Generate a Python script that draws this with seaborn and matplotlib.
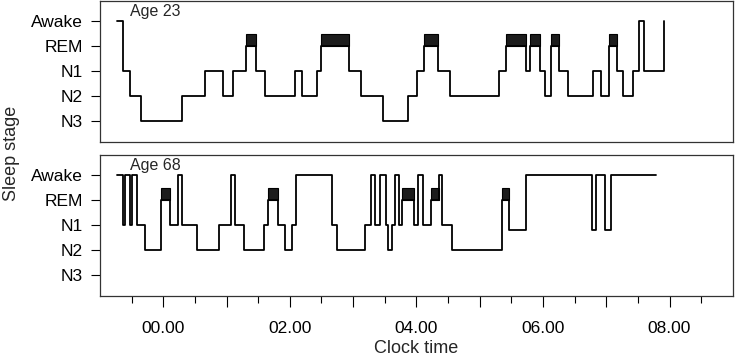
import matplotlib
matplotlib.use('Agg')
import matplotlib.pyplot as plt
import seaborn as sns

# sleep stages, top to bottom
stage_names = ['Awake', 'REM', 'N1', 'N2', 'N3']
stage_level = {'Awake': 4, 'REM': 3, 'N1': 2, 'N2': 1, 'N3': 0, 'N1low': 1.8}

# Age 23: time each stage starts (hours from midnight), last entry = end of record
young_t = [-0.73, -0.63, -0.52, -0.35, 0.29, 0.66, 0.95, 1.11, 1.31, 1.47,
           1.61, 2.08, 2.20, 2.43, 2.50, 2.94, 3.13, 3.48, 3.87, 4.01,
           4.12, 4.34, 4.53, 5.31, 5.42, 5.73, 5.79, 5.96, 6.03, 6.13,
           6.25, 6.40, 6.79, 6.91, 7.05, 7.17, 7.26, 7.42, 7.52, 7.59,
           7.91]
young_s = ['Awake', 'N1', 'N2', 'N3', 'N2', 'N1', 'N2', 'N1', 'REM', 'N1',
           'N2', 'N1', 'N2', 'N1', 'REM', 'N1', 'N2', 'N3', 'N2', 'N1',
           'REM', 'N1', 'N2', 'N1', 'REM', 'N1', 'REM', 'N1', 'N2', 'REM',
           'N1', 'N2', 'N1', 'N2', 'REM', 'N1', 'N2', 'N1', 'Awake', 'N1',
           'Awake']

# Age 68
old_t = [-0.73, -0.64, -0.61, -0.53, -0.49, -0.41, -0.29, -0.03, 0.11, 0.24,
         0.29, 0.54, 0.88, 1.07, 1.13, 1.28, 1.60, 1.65, 1.81, 1.93,
         2.04, 2.10, 2.66, 2.75, 3.19, 3.29, 3.34, 3.43, 3.52, 3.55,
         3.62, 3.66, 3.73, 3.77, 3.96, 4.03, 4.11, 4.23, 4.35, 4.40,
         4.56, 5.36, 5.46, 5.73, 6.78, 6.84, 6.98, 7.07, 7.79]
old_s = ['Awake', 'N1', 'Awake', 'N1', 'Awake', 'N1', 'N2', 'REM', 'N1', 'Awake',
         'N1', 'N2', 'N1', 'Awake', 'N1', 'N2', 'N1', 'REM', 'N1', 'N2',
         'N1', 'Awake', 'N1', 'N2', 'N1', 'Awake', 'N1', 'Awake', 'N1', 'N2',
         'N1', 'Awake', 'N1', 'REM', 'N1', 'Awake', 'N1', 'REM', 'Awake', 'N1',
         'N2', 'REM', 'N1low', 'Awake', 'N1low', 'Awake', 'N1low', 'Awake', 'Awake']

panel_titles = ['Age 23', 'Age 68']
hour_ticks = [0, 1, 2, 3, 4, 5, 6, 7, 8]
hour_labels = ['00.00', '', '02.00', '', '04.00', '', '06.00', '', '08.00']
half_ticks = [-0.5, 0.5, 1.5, 2.5, 3.5, 4.5, 5.5, 6.5, 7.5, 8.5]

sns.set_theme(style='white')
plt.rcParams['font.family'] = ['Liberation Sans', 'DejaVu Sans']

fig = plt.figure(figsize=(7.35, 3.59), dpi=100)
ax1 = fig.add_axes([0.136, 0.6036, 0.861, 0.394])
ax2 = fig.add_axes([0.136, 0.1755, 0.861, 0.393])

for ax, t, s, title in [(ax1, young_t, young_s, panel_titles[0]),
                        (ax2, old_t, old_s, panel_titles[1])]:
    lev = [stage_level[k] for k in s]
    # REM periods as black boxes
    rem_x = [t[i] for i in range(len(s) - 1) if s[i] == 'REM']
    rem_w = [t[i + 1] - t[i] for i in range(len(s) - 1) if s[i] == 'REM']
    ax.bar(rem_x, 0.48, width=rem_w, bottom=3, align='edge',
           color='#1c1c1c', edgecolor='black', linewidth=0.8, zorder=2)
    sns.lineplot(x=t, y=lev, ax=ax, drawstyle='steps-post', color='black',
                 linewidth=1.3, estimator=None, sort=False, zorder=3)
    ax.set_xlim(-1, 9)
    ax.set_ylim(-0.85, 4.8)
    ax.set_yticks([4, 3, 2, 1, 0])
    ax.set_yticklabels(stage_names)
    ax.tick_params(axis='y', length=6.5, width=0.8, pad=6, labelsize=12.5,
                   left=True, colors='black')
    ax.text(-0.52, 4.38, title, ha='left', va='center', fontsize=11.5)
    for sp in ax.spines.values():
        sp.set_linewidth(0.9)
        sp.set_color('#333333')
    ax.set_xlabel('')
    ax.set_ylabel('')

ax1.set_xticks([])

ax2.set_xticks(hour_ticks)
ax2.set_xticklabels(hour_labels)
ax2.set_xticks(half_ticks, minor=True)
ax2.tick_params(axis='x', which='major', length=8, width=0.8, pad=10,
                labelsize=12.5, bottom=True, colors='black')
ax2.tick_params(axis='x', which='minor', length=5, width=0.8, bottom=True,
                colors='black')
ax2.set_xlabel('Clock time', fontsize=13, labelpad=3)

fig.text(0.016, 0.574, 'Sleep stage', rotation=90, ha='center', va='center',
         fontsize=13)

fig.savefig('out.png', dpi=100)
plt.close(fig)
